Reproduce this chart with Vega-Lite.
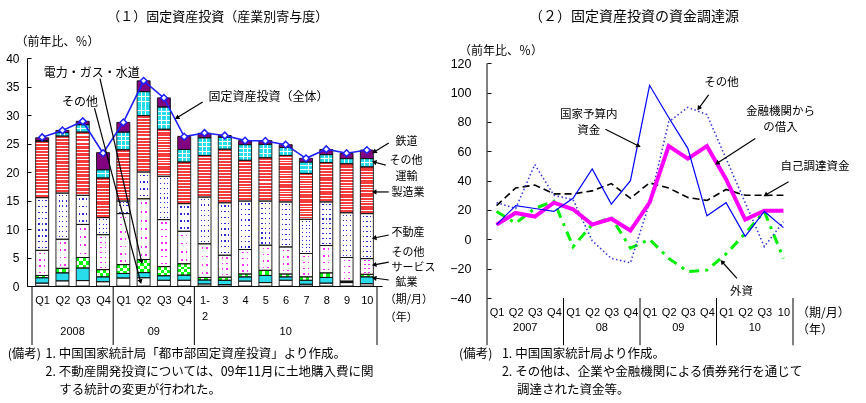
{
"$schema":"https://vega.github.io/schema/vega-lite/v6.json",
"background":"#ffffff",
"padding":{"left":5,"top":10,"right":5,"bottom":5},
"config":{"view":{"stroke":null},"axis":{"labelColor":"#000","tickColor":"#000","domainColor":"#000"}},
"datasets":{
"bars":[
{"i":0,"a_sonota":0.5,"b_kogyo":0.95,"c_denryoku":0.4,"d_service":4.4,"e_fudosan":9.25,"f_seizo":9.9,"g_unyu":0.1,"h_tetsudo":0.5,"total":26.1},
{"i":1,"a_sonota":0.9,"b_kogyo":1.4,"c_denryoku":0.8,"d_service":5.1,"e_fudosan":8.1,"f_seizo":10.0,"g_unyu":0.6,"h_tetsudo":0.4,"total":27.3},
{"i":2,"a_sonota":0.95,"b_kogyo":2.2,"c_denryoku":1.85,"d_service":5.8,"e_fudosan":5.1,"f_seizo":11.1,"g_unyu":1.3,"h_tetsudo":0.6,"total":28.9},
{"i":3,"a_sonota":0.75,"b_kogyo":0.85,"c_denryoku":1.27,"d_service":6.13,"e_fudosan":3.0,"f_seizo":6.95,"g_unyu":1.45,"h_tetsudo":3.0,"total":23.3},
{"i":4,"a_sonota":1.4,"b_kogyo":0.8,"c_denryoku":1.55,"d_service":8.95,"e_fudosan":2.2,"f_seizo":9.0,"g_unyu":3.1,"h_tetsudo":1.7,"total":28.7},
{"i":5,"a_sonota":1.45,"b_kogyo":0.9,"c_denryoku":2.3,"d_service":10.65,"e_fudosan":4.7,"f_seizo":9.9,"g_unyu":4.2,"h_tetsudo":1.9,"total":36.0},
{"i":6,"a_sonota":1.0,"b_kogyo":0.8,"c_denryoku":1.6,"d_service":8.25,"e_fudosan":7.6,"f_seizo":8.25,"g_unyu":3.9,"h_tetsudo":1.6,"total":33.0},
{"i":7,"a_sonota":1.0,"b_kogyo":0.9,"c_denryoku":2.0,"d_service":5.7,"e_fudosan":4.85,"f_seizo":7.3,"g_unyu":2.2,"h_tetsudo":2.3,"total":26.2},
{"i":8,"a_sonota":0.35,"b_kogyo":0.7,"c_denryoku":0.45,"d_service":5.9,"e_fudosan":8.2,"f_seizo":7.3,"g_unyu":3.1,"h_tetsudo":0.8,"total":26.85},
{"i":9,"a_sonota":0.25,"b_kogyo":0.75,"c_denryoku":0.55,"d_service":3.85,"e_fudosan":9.2,"f_seizo":9.4,"g_unyu":2.1,"h_tetsudo":0.3,"total":26.4},
{"i":10,"a_sonota":0.85,"b_kogyo":0.75,"c_denryoku":0.5,"d_service":4.3,"e_fudosan":8.5,"f_seizo":7.15,"g_unyu":2.75,"h_tetsudo":0.7,"total":25.5},
{"i":11,"a_sonota":0.6,"b_kogyo":1.25,"c_denryoku":0.9,"d_service":4.4,"e_fudosan":7.75,"f_seizo":7.6,"g_unyu":2.35,"h_tetsudo":0.65,"total":25.45},
{"i":12,"a_sonota":1.0,"b_kogyo":0.6,"c_denryoku":0.5,"d_service":4.75,"e_fudosan":7.9,"f_seizo":8.15,"g_unyu":1.4,"h_tetsudo":0.5,"total":24.8},
{"i":13,"a_sonota":0.3,"b_kogyo":0.7,"c_denryoku":0.6,"d_service":4.1,"e_fudosan":6.0,"f_seizo":8.05,"g_unyu":2.0,"h_tetsudo":0.65,"total":22.4},
{"i":14,"a_sonota":0.5,"b_kogyo":1.0,"c_denryoku":0.8,"d_service":4.8,"e_fudosan":7.65,"f_seizo":6.9,"g_unyu":1.4,"h_tetsudo":0.9,"total":24.0},
{"i":15,"a_sonota":0.6,"b_kogyo":0.15,"c_denryoku":0.1,"d_service":4.15,"e_fudosan":7.85,"f_seizo":8.6,"g_unyu":0.9,"h_tetsudo":0.9,"total":23.3},
{"i":16,"a_sonota":0.4,"b_kogyo":1.2,"c_denryoku":0.45,"d_service":2.75,"e_fudosan":7.9,"f_seizo":8.2,"g_unyu":1.45,"h_tetsudo":1.5,"total":23.85}
],
"funds":[
{"i":0,"kokka":10,"sonota":25,"kinyu":10,"jiko":23,"gaishi":19},
{"i":1,"kokka":23,"sonota":21,"kinyu":18,"jiko":35,"gaishi":11},
{"i":2,"kokka":21,"sonota":51,"kinyu":15.5,"jiko":37,"gaishi":21},
{"i":3,"kokka":19,"sonota":30,"kinyu":25,"jiko":31,"gaishi":26},
{"i":4,"kokka":28,"sonota":27,"kinyu":20.5,"jiko":31,"gaishi":-5},
{"i":5,"kokka":48,"sonota":-1,"kinyu":10,"jiko":33,"gaishi":10},
{"i":6,"kokka":24,"sonota":-13,"kinyu":14,"jiko":38,"gaishi":15},
{"i":7,"kokka":40,"sonota":-16,"kinyu":6,"jiko":28,"gaishi":-6},
{"i":8,"kokka":105,"sonota":25,"kinyu":25,"jiko":38.5,"gaishi":0},
{"i":9,"kokka":83,"sonota":80,"kinyu":63.5,"jiko":35,"gaishi":-13},
{"i":10,"kokka":62,"sonota":90,"kinyu":55,"jiko":28.5,"gaishi":-22},
{"i":11,"kokka":16,"sonota":85,"kinyu":63.5,"jiko":26.5,"gaishi":-21},
{"i":12,"kokka":25,"sonota":55,"kinyu":41,"jiko":34,"gaishi":-10},
{"i":13,"kokka":2,"sonota":25,"kinyu":13.5,"jiko":30,"gaishi":4},
{"i":14,"kokka":19,"sonota":-5,"kinyu":19.5,"jiko":30,"gaishi":19},
{"i":15,"kokka":8,"sonota":12,"kinyu":19.5,"jiko":30,"gaishi":-13}
]
},
"spacing":105,
"bounds":"flush",
"hconcat":[
{
"width":355,"height":228,
"resolve":{"axis":{"x":"independent","y":"independent"}},
"layer":[
{
"data":{"name":"bars"},
"transform":[
{"fold":["a_sonota","b_kogyo","c_denryoku","d_service","e_fudosan","f_seizo","g_unyu","h_tetsudo"]},
{"stack":"value","groupby":["i"],"sort":[{"field":"key","order":"ascending"}],"as":["y0","y1"]}
],
"mark":{"type":"bar","width":13,"strokeWidth":0},
"encoding":{
"x":{"field":"i","type":"quantitative","scale":{"domain":[-0.5,16.5],"nice":false},
"axis":{"orient":"bottom","values":[0,1,2,3,4,5,6,7,8,9,10,11,12,13,14,15,16],"labelExpr":"datum.value==8 ? ['1-','2'] : ['Q1','Q2','Q3','Q4','Q1','Q2','Q3','Q4','','3','4','5','6','7','8','9','10'][datum.value]","title":null,"grid":false,"ticks":false,"domain":true,"domainWidth":1,"labelFont":"Liberation Sans","labelFontSize":11,"labelPadding":8,"labelFlush":false,"labelOverlap":false,"labelBound":false,"labelLineHeight":16}},
"y":{"field":"y0","type":"quantitative","scale":{"domain":[0,40],"nice":false},
"axis":{"orient":"left","values":[0,5,10,15,20,25,30,35,40],"title":null,"grid":false,"tickSize":-4,"domain":true,"labelFont":"Liberation Sans","labelFontSize":12,"labelPadding":12,"labelFlush":false,"labelOverlap":false}},
"y2":{"field":"y1"},
"fill":{"condition":[
{"test":"datum.key=='a_sonota'","value":"#ffffff"},
{"test":"datum.key=='b_kogyo'","value":"#28dcec"},
{"test":"datum.key=='c_denryoku' && datum.value<1","value":"#00ff00"},
{"test":"datum.key=='c_denryoku' && datum.value<1.4","value":{"gradient":"linear","x1":0,"y1":0,"x2":0,"y2":1,"stops":[{"offset":0,"color":"#00ff00"},{"offset":0.5,"color":"#00ff00"},{"offset":0.5,"color":"#ffffff"},{"offset":1,"color":"#ffffff"}]}},
{"test":"datum.key=='c_denryoku' && datum.value<2","value":{"gradient":"linear","x1":0,"y1":0,"x2":0,"y2":1,"stops":[{"offset":0,"color":"#00ff00"},{"offset":0.333,"color":"#00ff00"},{"offset":0.333,"color":"#ffffff"},{"offset":0.667,"color":"#ffffff"},{"offset":0.667,"color":"#00ff00"},{"offset":1,"color":"#00ff00"}]}},
{"test":"datum.key=='c_denryoku'","value":{"gradient":"linear","x1":0,"y1":0,"x2":0,"y2":1,"stops":[{"offset":0,"color":"#00ff00"},{"offset":0.25,"color":"#00ff00"},{"offset":0.25,"color":"#ffffff"},{"offset":0.5,"color":"#ffffff"},{"offset":0.5,"color":"#00ff00"},{"offset":0.75,"color":"#00ff00"},{"offset":0.75,"color":"#ffffff"},{"offset":1,"color":"#ffffff"}]}},
{"test":"datum.key=='d_service' && datum.value<6","value":{"gradient":"linear","x1":0,"y1":0,"x2":0,"y2":1,"stops":[{"offset":0,"color":"#ffffff"},{"offset":0.1,"color":"#ffffff"},{"offset":0.1,"color":"#ff2bff"},{"offset":0.155,"color":"#ff2bff"},{"offset":0.155,"color":"#ffffff"},{"offset":0.35,"color":"#ffffff"},{"offset":0.35,"color":"#ff2bff"},{"offset":0.405,"color":"#ff2bff"},{"offset":0.405,"color":"#ffffff"},{"offset":0.6,"color":"#ffffff"},{"offset":0.6,"color":"#ff2bff"},{"offset":0.655,"color":"#ff2bff"},{"offset":0.655,"color":"#ffffff"},{"offset":0.85,"color":"#ffffff"},{"offset":0.85,"color":"#ff2bff"},{"offset":0.905,"color":"#ff2bff"},{"offset":0.905,"color":"#ffffff"},{"offset":1,"color":"#ffffff"}]}},
{"test":"datum.key=='d_service'","value":{"gradient":"linear","x1":0,"y1":0,"x2":0,"y2":1,"stops":[{"offset":0,"color":"#ffffff"},{"offset":0.0571,"color":"#ffffff"},{"offset":0.0571,"color":"#ff2bff"},{"offset":0.0886,"color":"#ff2bff"},{"offset":0.0886,"color":"#ffffff"},{"offset":0.2,"color":"#ffffff"},{"offset":0.2,"color":"#ff2bff"},{"offset":0.2314,"color":"#ff2bff"},{"offset":0.2314,"color":"#ffffff"},{"offset":0.3429,"color":"#ffffff"},{"offset":0.3429,"color":"#ff2bff"},{"offset":0.3743,"color":"#ff2bff"},{"offset":0.3743,"color":"#ffffff"},{"offset":0.4857,"color":"#ffffff"},{"offset":0.4857,"color":"#ff2bff"},{"offset":0.5171,"color":"#ff2bff"},{"offset":0.5171,"color":"#ffffff"},{"offset":0.6286,"color":"#ffffff"},{"offset":0.6286,"color":"#ff2bff"},{"offset":0.66,"color":"#ff2bff"},{"offset":0.66,"color":"#ffffff"},{"offset":0.7714,"color":"#ffffff"},{"offset":0.7714,"color":"#ff2bff"},{"offset":0.8029,"color":"#ff2bff"},{"offset":0.8029,"color":"#ffffff"},{"offset":0.9143,"color":"#ffffff"},{"offset":0.9143,"color":"#ff2bff"},{"offset":0.9457,"color":"#ff2bff"},{"offset":0.9457,"color":"#ffffff"},{"offset":1,"color":"#ffffff"}]}},
{"test":"datum.key=='e_fudosan' && datum.value<5.5","value":{"gradient":"linear","x1":0,"y1":0,"x2":0,"y2":1,"stops":[{"offset":0,"color":"#ffffff"},{"offset":0.1,"color":"#ffffff"},{"offset":0.1,"color":"#2b2bd0"},{"offset":0.1625,"color":"#2b2bd0"},{"offset":0.1625,"color":"#ffffff"},{"offset":0.35,"color":"#ffffff"},{"offset":0.35,"color":"#2b2bd0"},{"offset":0.4125,"color":"#2b2bd0"},{"offset":0.4125,"color":"#ffffff"},{"offset":0.6,"color":"#ffffff"},{"offset":0.6,"color":"#2b2bd0"},{"offset":0.6625,"color":"#2b2bd0"},{"offset":0.6625,"color":"#ffffff"},{"offset":0.85,"color":"#ffffff"},{"offset":0.85,"color":"#2b2bd0"},{"offset":0.9125,"color":"#2b2bd0"},{"offset":0.9125,"color":"#ffffff"},{"offset":1,"color":"#ffffff"}]}},
{"test":"datum.key=='e_fudosan'","value":{"gradient":"linear","x1":0,"y1":0,"x2":0,"y2":1,"stops":[{"offset":0,"color":"#ffffff"},{"offset":0.0444,"color":"#ffffff"},{"offset":0.0444,"color":"#2b2bd0"},{"offset":0.0722,"color":"#2b2bd0"},{"offset":0.0722,"color":"#ffffff"},{"offset":0.1556,"color":"#ffffff"},{"offset":0.1556,"color":"#2b2bd0"},{"offset":0.1833,"color":"#2b2bd0"},{"offset":0.1833,"color":"#ffffff"},{"offset":0.2667,"color":"#ffffff"},{"offset":0.2667,"color":"#2b2bd0"},{"offset":0.2944,"color":"#2b2bd0"},{"offset":0.2944,"color":"#ffffff"},{"offset":0.3778,"color":"#ffffff"},{"offset":0.3778,"color":"#2b2bd0"},{"offset":0.4056,"color":"#2b2bd0"},{"offset":0.4056,"color":"#ffffff"},{"offset":0.4889,"color":"#ffffff"},{"offset":0.4889,"color":"#2b2bd0"},{"offset":0.5167,"color":"#2b2bd0"},{"offset":0.5167,"color":"#ffffff"},{"offset":0.6,"color":"#ffffff"},{"offset":0.6,"color":"#2b2bd0"},{"offset":0.6278,"color":"#2b2bd0"},{"offset":0.6278,"color":"#ffffff"},{"offset":0.7111,"color":"#ffffff"},{"offset":0.7111,"color":"#2b2bd0"},{"offset":0.7389,"color":"#2b2bd0"},{"offset":0.7389,"color":"#ffffff"},{"offset":0.8222,"color":"#ffffff"},{"offset":0.8222,"color":"#2b2bd0"},{"offset":0.85,"color":"#2b2bd0"},{"offset":0.85,"color":"#ffffff"},{"offset":0.9333,"color":"#ffffff"},{"offset":0.9333,"color":"#2b2bd0"},{"offset":0.9611,"color":"#2b2bd0"},{"offset":0.9611,"color":"#ffffff"},{"offset":1,"color":"#ffffff"}]}},
{"test":"datum.key=='f_seizo' && datum.value<8","value":{"gradient":"linear","x1":0,"y1":0,"x2":0,"y2":1,"stops":[{"offset":0,"color":"#f53b3b"},{"offset":0.0476,"color":"#f53b3b"},{"offset":0.0476,"color":"#ffffff"},{"offset":0.0714,"color":"#ffffff"},{"offset":0.0714,"color":"#f53b3b"},{"offset":0.119,"color":"#f53b3b"},{"offset":0.119,"color":"#ffffff"},{"offset":0.1429,"color":"#ffffff"},{"offset":0.1429,"color":"#f53b3b"},{"offset":0.1905,"color":"#f53b3b"},{"offset":0.1905,"color":"#ffffff"},{"offset":0.2143,"color":"#ffffff"},{"offset":0.2143,"color":"#f53b3b"},{"offset":0.2619,"color":"#f53b3b"},{"offset":0.2619,"color":"#ffffff"},{"offset":0.2857,"color":"#ffffff"},{"offset":0.2857,"color":"#f53b3b"},{"offset":0.3333,"color":"#f53b3b"},{"offset":0.3333,"color":"#ffffff"},{"offset":0.3571,"color":"#ffffff"},{"offset":0.3571,"color":"#f53b3b"},{"offset":0.4048,"color":"#f53b3b"},{"offset":0.4048,"color":"#ffffff"},{"offset":0.4286,"color":"#ffffff"},{"offset":0.4286,"color":"#f53b3b"},{"offset":0.4762,"color":"#f53b3b"},{"offset":0.4762,"color":"#ffffff"},{"offset":0.5,"color":"#ffffff"},{"offset":0.5,"color":"#f53b3b"},{"offset":0.5476,"color":"#f53b3b"},{"offset":0.5476,"color":"#ffffff"},{"offset":0.5714,"color":"#ffffff"},{"offset":0.5714,"color":"#f53b3b"},{"offset":0.619,"color":"#f53b3b"},{"offset":0.619,"color":"#ffffff"},{"offset":0.6429,"color":"#ffffff"},{"offset":0.6429,"color":"#f53b3b"},{"offset":0.6905,"color":"#f53b3b"},{"offset":0.6905,"color":"#ffffff"},{"offset":0.7143,"color":"#ffffff"},{"offset":0.7143,"color":"#f53b3b"},{"offset":0.7619,"color":"#f53b3b"},{"offset":0.7619,"color":"#ffffff"},{"offset":0.7857,"color":"#ffffff"},{"offset":0.7857,"color":"#f53b3b"},{"offset":0.8333,"color":"#f53b3b"},{"offset":0.8333,"color":"#ffffff"},{"offset":0.8571,"color":"#ffffff"},{"offset":0.8571,"color":"#f53b3b"},{"offset":0.9048,"color":"#f53b3b"},{"offset":0.9048,"color":"#ffffff"},{"offset":0.9286,"color":"#ffffff"},{"offset":0.9286,"color":"#f53b3b"},{"offset":0.9762,"color":"#f53b3b"},{"offset":0.9762,"color":"#ffffff"},{"offset":1,"color":"#ffffff"}]}},
{"test":"datum.key=='f_seizo'","value":{"gradient":"linear","x1":0,"y1":0,"x2":0,"y2":1,"stops":[{"offset":0,"color":"#f53b3b"},{"offset":0.037,"color":"#f53b3b"},{"offset":0.037,"color":"#ffffff"},{"offset":0.0556,"color":"#ffffff"},{"offset":0.0556,"color":"#f53b3b"},{"offset":0.0926,"color":"#f53b3b"},{"offset":0.0926,"color":"#ffffff"},{"offset":0.1111,"color":"#ffffff"},{"offset":0.1111,"color":"#f53b3b"},{"offset":0.1481,"color":"#f53b3b"},{"offset":0.1481,"color":"#ffffff"},{"offset":0.1667,"color":"#ffffff"},{"offset":0.1667,"color":"#f53b3b"},{"offset":0.2037,"color":"#f53b3b"},{"offset":0.2037,"color":"#ffffff"},{"offset":0.2222,"color":"#ffffff"},{"offset":0.2222,"color":"#f53b3b"},{"offset":0.2593,"color":"#f53b3b"},{"offset":0.2593,"color":"#ffffff"},{"offset":0.2778,"color":"#ffffff"},{"offset":0.2778,"color":"#f53b3b"},{"offset":0.3148,"color":"#f53b3b"},{"offset":0.3148,"color":"#ffffff"},{"offset":0.3333,"color":"#ffffff"},{"offset":0.3333,"color":"#f53b3b"},{"offset":0.3704,"color":"#f53b3b"},{"offset":0.3704,"color":"#ffffff"},{"offset":0.3889,"color":"#ffffff"},{"offset":0.3889,"color":"#f53b3b"},{"offset":0.4259,"color":"#f53b3b"},{"offset":0.4259,"color":"#ffffff"},{"offset":0.4444,"color":"#ffffff"},{"offset":0.4444,"color":"#f53b3b"},{"offset":0.4815,"color":"#f53b3b"},{"offset":0.4815,"color":"#ffffff"},{"offset":0.5,"color":"#ffffff"},{"offset":0.5,"color":"#f53b3b"},{"offset":0.537,"color":"#f53b3b"},{"offset":0.537,"color":"#ffffff"},{"offset":0.5556,"color":"#ffffff"},{"offset":0.5556,"color":"#f53b3b"},{"offset":0.5926,"color":"#f53b3b"},{"offset":0.5926,"color":"#ffffff"},{"offset":0.6111,"color":"#ffffff"},{"offset":0.6111,"color":"#f53b3b"},{"offset":0.6481,"color":"#f53b3b"},{"offset":0.6481,"color":"#ffffff"},{"offset":0.6667,"color":"#ffffff"},{"offset":0.6667,"color":"#f53b3b"},{"offset":0.7037,"color":"#f53b3b"},{"offset":0.7037,"color":"#ffffff"},{"offset":0.7222,"color":"#ffffff"},{"offset":0.7222,"color":"#f53b3b"},{"offset":0.7593,"color":"#f53b3b"},{"offset":0.7593,"color":"#ffffff"},{"offset":0.7778,"color":"#ffffff"},{"offset":0.7778,"color":"#f53b3b"},{"offset":0.8148,"color":"#f53b3b"},{"offset":0.8148,"color":"#ffffff"},{"offset":0.8333,"color":"#ffffff"},{"offset":0.8333,"color":"#f53b3b"},{"offset":0.8704,"color":"#f53b3b"},{"offset":0.8704,"color":"#ffffff"},{"offset":0.8889,"color":"#ffffff"},{"offset":0.8889,"color":"#f53b3b"},{"offset":0.9259,"color":"#f53b3b"},{"offset":0.9259,"color":"#ffffff"},{"offset":0.9444,"color":"#ffffff"},{"offset":0.9444,"color":"#f53b3b"},{"offset":0.9815,"color":"#f53b3b"},{"offset":0.9815,"color":"#ffffff"},{"offset":1,"color":"#ffffff"}]}},
{"test":"datum.key=='g_unyu' && datum.value<1.1","value":"#28dcec"},
{"test":"datum.key=='g_unyu' && datum.value<1.9","value":{"gradient":"linear","x1":0,"y1":0,"x2":0,"y2":1,"stops":[{"offset":0,"color":"#28dcec"},{"offset":0.445,"color":"#28dcec"},{"offset":0.445,"color":"#ffffff"},{"offset":0.555,"color":"#ffffff"},{"offset":0.555,"color":"#28dcec"},{"offset":1,"color":"#28dcec"}]}},
{"test":"datum.key=='g_unyu' && datum.value<2.6","value":{"gradient":"linear","x1":0,"y1":0,"x2":0,"y2":1,"stops":[{"offset":0,"color":"#28dcec"},{"offset":0.296,"color":"#28dcec"},{"offset":0.296,"color":"#ffffff"},{"offset":0.371,"color":"#ffffff"},{"offset":0.371,"color":"#28dcec"},{"offset":0.629,"color":"#28dcec"},{"offset":0.629,"color":"#ffffff"},{"offset":0.704,"color":"#ffffff"},{"offset":0.704,"color":"#28dcec"},{"offset":1,"color":"#28dcec"}]}},
{"test":"datum.key=='g_unyu' && datum.value<3.4","value":{"gradient":"linear","x1":0,"y1":0,"x2":0,"y2":1,"stops":[{"offset":0,"color":"#28dcec"},{"offset":0.2225,"color":"#28dcec"},{"offset":0.2225,"color":"#ffffff"},{"offset":0.2775,"color":"#ffffff"},{"offset":0.2775,"color":"#28dcec"},{"offset":0.4725,"color":"#28dcec"},{"offset":0.4725,"color":"#ffffff"},{"offset":0.5275,"color":"#ffffff"},{"offset":0.5275,"color":"#28dcec"},{"offset":0.7225,"color":"#28dcec"},{"offset":0.7225,"color":"#ffffff"},{"offset":0.7775,"color":"#ffffff"},{"offset":0.7775,"color":"#28dcec"},{"offset":1,"color":"#28dcec"}]}},
{"test":"datum.key=='g_unyu'","value":{"gradient":"linear","x1":0,"y1":0,"x2":0,"y2":1,"stops":[{"offset":0,"color":"#28dcec"},{"offset":0.18,"color":"#28dcec"},{"offset":0.18,"color":"#ffffff"},{"offset":0.22,"color":"#ffffff"},{"offset":0.22,"color":"#28dcec"},{"offset":0.38,"color":"#28dcec"},{"offset":0.38,"color":"#ffffff"},{"offset":0.42,"color":"#ffffff"},{"offset":0.42,"color":"#28dcec"},{"offset":0.58,"color":"#28dcec"},{"offset":0.58,"color":"#ffffff"},{"offset":0.62,"color":"#ffffff"},{"offset":0.62,"color":"#28dcec"},{"offset":0.78,"color":"#28dcec"},{"offset":0.78,"color":"#ffffff"},{"offset":0.82,"color":"#ffffff"},{"offset":0.82,"color":"#28dcec"},{"offset":1,"color":"#28dcec"}]}}
],"value":"#800080"}
}
},
{
"data":{"name":"bars"},
"transform":[
{"fold":["a_sonota","b_kogyo","c_denryoku","d_service","e_fudosan","f_seizo","g_unyu","h_tetsudo"]},
{"stack":"value","groupby":["i"],"sort":[{"field":"key","order":"ascending"}],"as":["y0","y1"]},
{"filter":"datum.key=='d_service' || datum.key=='e_fudosan' || datum.key=='g_unyu'"}
],
"mark":{"type":"bar","width":13,"strokeWidth":0},
"encoding":{
"x":{"field":"i","type":"quantitative","scale":{"domain":[-0.5,16.5],"nice":false},"axis":null},
"y":{"field":"y0","type":"quantitative","scale":{"domain":[0,40],"nice":false},"axis":null},
"y2":{"field":"y1"},
"fill":{"condition":[
{"test":"datum.key=='d_service'","value":{"gradient":"linear","x1":0,"y1":0,"x2":1,"y2":0,"stops":[{"offset":0,"color":"#ffffff"},{"offset":0.28,"color":"#ffffff"},{"offset":0.28,"color":"rgba(255,255,255,0)"},{"offset":0.4,"color":"rgba(255,255,255,0)"},{"offset":0.4,"color":"#ffffff"},{"offset":0.62,"color":"#ffffff"},{"offset":0.62,"color":"rgba(255,255,255,0)"},{"offset":0.74,"color":"rgba(255,255,255,0)"},{"offset":0.74,"color":"#ffffff"},{"offset":1,"color":"#ffffff"}]}},
{"test":"datum.key=='e_fudosan'","value":{"gradient":"linear","x1":0,"y1":0,"x2":1,"y2":0,"stops":[{"offset":0,"color":"#ffffff"},{"offset":0.2,"color":"#ffffff"},{"offset":0.2,"color":"rgba(255,255,255,0)"},{"offset":0.3,"color":"rgba(255,255,255,0)"},{"offset":0.3,"color":"#ffffff"},{"offset":0.47,"color":"#ffffff"},{"offset":0.47,"color":"rgba(255,255,255,0)"},{"offset":0.57,"color":"rgba(255,255,255,0)"},{"offset":0.57,"color":"#ffffff"},{"offset":0.74,"color":"#ffffff"},{"offset":0.74,"color":"rgba(255,255,255,0)"},{"offset":0.84,"color":"rgba(255,255,255,0)"},{"offset":0.84,"color":"#ffffff"},{"offset":1,"color":"#ffffff"}]}}
],"value":{"gradient":"linear","x1":0,"y1":0,"x2":1,"y2":0,"stops":[{"offset":0,"color":"rgba(255,255,255,0)"},{"offset":0.31,"color":"rgba(255,255,255,0)"},{"offset":0.31,"color":"#ffffff"},{"offset":0.38,"color":"#ffffff"},{"offset":0.38,"color":"rgba(255,255,255,0)"},{"offset":0.64,"color":"rgba(255,255,255,0)"},{"offset":0.64,"color":"#ffffff"},{"offset":0.71,"color":"#ffffff"},{"offset":0.71,"color":"rgba(255,255,255,0)"},{"offset":1,"color":"rgba(255,255,255,0)"}]}}
}
},
{
"data":{"name":"bars"},
"transform":[
{"fold":["a_sonota","b_kogyo","c_denryoku","d_service","e_fudosan","f_seizo","g_unyu","h_tetsudo"]},
{"stack":"value","groupby":["i"],"sort":[{"field":"key","order":"ascending"}],"as":["y0","y1"]},
{"filter":"datum.key=='c_denryoku'"}
],
"mark":{"type":"bar","width":13,"strokeWidth":0,"blend":"difference","fill":{"gradient":"linear","x1":0,"y1":0,"x2":1,"y2":0,"stops":[{"offset":0,"color":"rgba(255,0,255,0)"},{"offset":0.25,"color":"rgba(255,0,255,0)"},{"offset":0.25,"color":"#ff00ff"},{"offset":0.5,"color":"#ff00ff"},{"offset":0.5,"color":"rgba(255,0,255,0)"},{"offset":0.75,"color":"rgba(255,0,255,0)"},{"offset":0.75,"color":"#ff00ff"},{"offset":1,"color":"#ff00ff"}]}},
"encoding":{
"x":{"field":"i","type":"quantitative","scale":{"domain":[-0.5,16.5],"nice":false},"axis":null},
"y":{"field":"y0","type":"quantitative","scale":{"domain":[0,40],"nice":false},"axis":null},
"y2":{"field":"y1"}
}
},
{
"data":{"name":"bars"},
"transform":[
{"fold":["a_sonota","b_kogyo","c_denryoku","d_service","e_fudosan","f_seizo","g_unyu","h_tetsudo"]},
{"stack":"value","groupby":["i"],"sort":[{"field":"key","order":"ascending"}],"as":["y0","y1"]}
],
"mark":{"type":"bar","width":13,"fill":"#ffffff","fillOpacity":0,"stroke":"#111111","strokeWidth":0.9},
"encoding":{
"x":{"field":"i","type":"quantitative","scale":{"domain":[-0.5,16.5],"nice":false},"axis":null},
"y":{"field":"y0","type":"quantitative","scale":{"domain":[0,40],"nice":false},"axis":null},
"y2":{"field":"y1"}
}
},
{
"data":{"name":"bars"},
"mark":{"type":"line","color":"#1f1fff","strokeWidth":1.6},
"encoding":{
"x":{"field":"i","type":"quantitative","scale":{"domain":[-0.5,16.5],"nice":false},"axis":null},
"y":{"field":"total","type":"quantitative","scale":{"domain":[0,40],"nice":false},"axis":null}
}
},
{
"data":{"name":"bars"},
"mark":{"type":"point","shape":"diamond","filled":true,"fill":"#ffffff","stroke":"#1f1fff","strokeWidth":1.5,"size":45,"opacity":1},
"encoding":{
"x":{"field":"i","type":"quantitative","scale":{"domain":[-0.5,16.5],"nice":false},"axis":null},
"y":{"field":"total","type":"quantitative","scale":{"domain":[0,40],"nice":false},"axis":null}
}
},
{
"data":{"values":[{"x":-0.5},{"x":3.5},{"x":7.5},{"x":16.5}]},
"mark":{"type":"rule","color":"#000000","strokeWidth":1},
"encoding":{
"x":{"field":"x","type":"quantitative","scale":{"domain":[-0.5,16.5],"nice":false},"axis":null},
"y":{"datum":0,"type":"quantitative","scale":{"domain":[0,40],"nice":false},"axis":null},
"y2":{"datum":-10.35}
}
},
{
"data":{"values":[{"x":2.85,"y":36.4,"x2":4.9,"y2":4.26},{"x":2.58,"y":31.2,"x2":4.85,"y2":0.75},{"x":7.91,"y":32.3,"x2":6.64,"y2":29.5},{"x":17.08,"y":25.1,"x2":16.36,"y2":23.5},{"x":16.93,"y":21.2,"x2":16.36,"y2":21.75},{"x":17.08,"y":16.5,"x2":16.36,"y2":16.5},{"x":17.08,"y":8.95,"x2":16.36,"y2":8.42},{"x":17.08,"y":4.2,"x2":16.36,"y2":3.7},{"x":17.08,"y":1.05,"x2":16.36,"y2":1.4}]},
"layer":[
{"mark":{"type":"rule","color":"#000000","strokeWidth":1.2},
"encoding":{
"x":{"field":"x","type":"quantitative","scale":{"domain":[-0.5,16.5],"nice":false},"axis":null},
"y":{"field":"y","type":"quantitative","scale":{"domain":[0,40],"nice":false},"axis":null},
"x2":{"field":"x2"},"y2":{"field":"y2"}}},
{"transform":[{"calculate":"atan2((datum.x2-datum.x)*20.88,(datum.y2-datum.y)*5.7)*180/PI","as":"ang"}],
"mark":{"type":"point","shape":"triangle-up","filled":true,"color":"#000000","size":28,"opacity":1},
"encoding":{
"x":{"field":"x2","type":"quantitative","scale":{"domain":[-0.5,16.5],"nice":false},"axis":null},
"y":{"field":"y2","type":"quantitative","scale":{"domain":[0,40],"nice":false},"axis":null},
"angle":{"field":"ang","type":"quantitative","scale":null}}}
]
},
{
"data":{"values":[{"x":8.65,"y":47.2,"t":"（１）固定資産投資（産業別寄与度）"}]},
"mark":{"type":"text","align":"center","baseline":"middle","font":"Noto Sans CJK JP","fontSize":13,"color":"#000000"},
"encoding":{
"x":{"field":"x","type":"quantitative","scale":{"domain":[-0.5,16.5],"nice":false},"axis":null},
"y":{"field":"y","type":"quantitative","scale":{"domain":[0,40],"nice":false},"axis":null},
"text":{"field":"t"}}
},
{
"data":{"values":[{"x":2.45,"y":37.3,"t":"電力・ガス・水道"},{"x":1.87,"y":32.3,"t":"その他"}]},
"mark":{"type":"text","align":"center","baseline":"middle","font":"Noto Sans CJK JP","fontSize":12,"color":"#000000"},
"encoding":{
"x":{"field":"x","type":"quantitative","scale":{"domain":[-0.5,16.5],"nice":false},"axis":null},
"y":{"field":"y","type":"quantitative","scale":{"domain":[0,40],"nice":false},"axis":null},
"text":{"field":"t"}}
},
{
"data":{"values":[{"x":-1.31,"y":42.8,"t":"（前年比、％）"},{"x":8.2,"y":33.2,"t":"固定資産投資（全体）"}]},
"mark":{"type":"text","align":"left","baseline":"middle","font":"Noto Sans CJK JP","fontSize":12,"color":"#000000"},
"encoding":{
"x":{"field":"x","type":"quantitative","scale":{"domain":[-0.5,16.5],"nice":false},"axis":null},
"y":{"field":"y","type":"quantitative","scale":{"domain":[0,40],"nice":false},"axis":null},
"text":{"field":"t"}}
},
{
"data":{"values":[{"x":17.41,"y":25.2,"t":"鉄道"},{"x":17.12,"y":21.9,"t":"その他"},{"x":17.41,"y":19.2,"t":"運輸"},{"x":17.22,"y":16.3,"t":"製造業"},{"x":17.22,"y":9.3,"t":"不動産"},{"x":17.22,"y":5.8,"t":"その他"},{"x":17.22,"y":3.1,"t":"サービス"},{"x":17.41,"y":0.55,"t":"鉱業"},{"x":16.88,"y":-2.46,"t":"（期/月）"},{"x":16.88,"y":-5.6,"t":"（年）"}]},
"mark":{"type":"text","align":"left","baseline":"middle","font":"Noto Sans CJK JP","fontSize":11,"color":"#000000"},
"encoding":{
"x":{"field":"x","type":"quantitative","scale":{"domain":[-0.5,16.5],"nice":false},"axis":null},
"y":{"field":"y","type":"quantitative","scale":{"domain":[0,40],"nice":false},"axis":null},
"text":{"field":"t"}}
},
{
"data":{"values":[{"x":1.5,"y":-8.07,"t":"2008"},{"x":5.5,"y":-8.07,"t":"09"},{"x":12,"y":-8.07,"t":"10"}]},
"mark":{"type":"text","align":"center","baseline":"middle","font":"Liberation Sans","fontSize":11,"color":"#000000"},
"encoding":{
"x":{"field":"x","type":"quantitative","scale":{"domain":[-0.5,16.5],"nice":false},"axis":null},
"y":{"field":"y","type":"quantitative","scale":{"domain":[0,40],"nice":false},"axis":null},
"text":{"field":"t"}}
},
{
"data":{"values":[{"x":-1.7,"y":-11.93,"t":"(備考)"},{"x":0.17,"y":-11.93,"t":"1. 中国国家統計局「都市部固定資産投資」より作成。"},{"x":0.17,"y":-15.09,"t":"2. 不動産開発投資については、09年11月に土地購入費に関"},{"x":0.84,"y":-18.25,"t":"する統計の変更が行われた。"}]},
"mark":{"type":"text","align":"left","baseline":"middle","font":"Noto Sans CJK JP","fontSize":12.5,"color":"#000000"},
"encoding":{
"x":{"field":"x","type":"quantitative","scale":{"domain":[-0.5,16.5],"nice":false},"axis":null},
"y":{"field":"y","type":"quantitative","scale":{"domain":[0,40],"nice":false},"axis":null},
"text":{"field":"t"}}
}
]
},
{
"width":306,"height":240,
"resolve":{"axis":{"x":"independent","y":"independent"}},
"layer":[
{
"data":{"name":"funds"},
"mark":{"type":"line","color":"#00ee00","strokeWidth":3,"strokeDash":[10,6,3,6]},
"encoding":{
"x":{"field":"i","type":"quantitative","scale":{"domain":[-0.5,15.5],"nice":false},
"axis":{"orient":"bottom","values":[0,1,2,3,4,5,6,7,8,9,10,11,12,13,14,15],"labelExpr":"['Q1','Q2','Q3','Q4','Q1','Q2','Q3','Q4','Q1','Q2','Q3','Q4','Q1','Q2','Q3','10'][datum.value]","title":null,"grid":false,"ticks":false,"domain":false,"labelFont":"Liberation Sans","labelFontSize":11,"labelPadding":8,"labelFlush":false,"labelOverlap":false,"labelBound":false}},
"y":{"field":"gaishi","type":"quantitative","scale":{"domain":[-40,123.6],"nice":false},
"axis":{"orient":"left","values":[-40,-20,0,20,40,60,80,100,120],"title":null,"grid":false,"domain":false,"tickSize":-4,"labelFont":"Liberation Sans","labelFontSize":12.5,"labelPadding":20,"labelFlush":false,"labelOverlap":false}}}
},
{
"data":{"values":[{"x":-0.5,"y":120,"y2":-72.2},{"x":3.5,"y":-40,"y2":-72.2},{"x":7.5,"y":-40,"y2":-72.2},{"x":11.5,"y":-40,"y2":-72.2},{"x":15.5,"y":-40,"y2":-72.2}]},
"mark":{"type":"rule","color":"#000000","strokeWidth":1},
"encoding":{
"x":{"field":"x","type":"quantitative","scale":{"domain":[-0.5,15.5],"nice":false},"axis":null},
"y":{"field":"y","type":"quantitative","scale":{"domain":[-40,123.6],"nice":false},"axis":null},
"y2":{"field":"y2"}}
},
{
"mark":{"type":"rule","color":"#000000","strokeWidth":1},
"encoding":{"y":{"datum":0,"type":"quantitative","scale":{"domain":[-40,123.6],"nice":false},"axis":null}}
},
{
"data":{"name":"funds"},
"mark":{"type":"line","color":"#000000","strokeWidth":1.6,"strokeDash":[7,4]},
"encoding":{
"x":{"field":"i","type":"quantitative","scale":{"domain":[-0.5,15.5],"nice":false},"axis":null},
"y":{"field":"jiko","type":"quantitative","scale":{"domain":[-40,123.6],"nice":false},"axis":null}}
},
{
"data":{"name":"funds"},
"mark":{"type":"line","color":"#3a3ad0","strokeWidth":1.6,"strokeDash":[1.5,2.5]},
"encoding":{
"x":{"field":"i","type":"quantitative","scale":{"domain":[-0.5,15.5],"nice":false},"axis":null},
"y":{"field":"sonota","type":"quantitative","scale":{"domain":[-40,123.6],"nice":false},"axis":null}}
},
{
"data":{"name":"funds"},
"mark":{"type":"line","color":"#ff00ff","strokeWidth":4},
"encoding":{
"x":{"field":"i","type":"quantitative","scale":{"domain":[-0.5,15.5],"nice":false},"axis":null},
"y":{"field":"kinyu","type":"quantitative","scale":{"domain":[-40,123.6],"nice":false},"axis":null}}
},
{
"data":{"name":"funds"},
"mark":{"type":"line","color":"#0000ff","strokeWidth":1.2},
"encoding":{
"x":{"field":"i","type":"quantitative","scale":{"domain":[-0.5,15.5],"nice":false},"axis":null},
"y":{"field":"kokka","type":"quantitative","scale":{"domain":[-40,123.6],"nice":false},"axis":null}}
},
{
"data":{"values":[{"x":5.69,"y":75,"x2":7.43,"y2":63.6},{"x":11.09,"y":98.4,"x2":10.57,"y2":89.3},{"x":13.53,"y":68.8,"x2":11.53,"y2":51.8},{"x":15.27,"y":39.3,"x2":14.06,"y2":30.2},{"x":12.57,"y":-26.6,"x2":11.79,"y2":-15.3}]},
"layer":[
{"mark":{"type":"rule","color":"#000000","strokeWidth":1.2},
"encoding":{
"x":{"field":"x","type":"quantitative","scale":{"domain":[-0.5,15.5],"nice":false},"axis":null},
"y":{"field":"y","type":"quantitative","scale":{"domain":[-40,123.6],"nice":false},"axis":null},
"x2":{"field":"x2"},"y2":{"field":"y2"}}},
{"transform":[{"calculate":"atan2((datum.x2-datum.x)*19.125,(datum.y2-datum.y)*1.467)*180/PI","as":"ang"}],
"mark":{"type":"point","shape":"triangle-up","filled":true,"color":"#000000","size":28,"opacity":1},
"encoding":{
"x":{"field":"x2","type":"quantitative","scale":{"domain":[-0.5,15.5],"nice":false},"axis":null},
"y":{"field":"y2","type":"quantitative","scale":{"domain":[-40,123.6],"nice":false},"axis":null},
"angle":{"field":"ang","type":"quantitative","scale":null}}}
]
},
{
"data":{"values":[{"x":7.19,"y":151.5,"t":"（２）固定資産投資の資金調達源"}]},
"mark":{"type":"text","align":"center","baseline":"middle","font":"Noto Sans CJK JP","fontSize":14,"color":"#000000"},
"encoding":{
"x":{"field":"x","type":"quantitative","scale":{"domain":[-0.5,15.5],"nice":false},"axis":null},
"y":{"field":"y","type":"quantitative","scale":{"domain":[-40,123.6],"nice":false},"axis":null},
"text":{"field":"t"}}
},
{
"data":{"values":[{"x":4.82,"y":84.5,"t":"国家予算内"},{"x":4.82,"y":74,"t":"資金"},{"x":11.76,"y":106.7,"t":"その他"},{"x":14.85,"y":86.6,"t":"金融機関から"},{"x":14.85,"y":75.8,"t":"の借入"},{"x":16.65,"y":49.5,"t":"自己調達資金"},{"x":12.81,"y":-35.7,"t":"外資"}]},
"mark":{"type":"text","align":"center","baseline":"middle","font":"Noto Sans CJK JP","fontSize":11.5,"color":"#000000"},
"encoding":{
"x":{"field":"x","type":"quantitative","scale":{"domain":[-0.5,15.5],"nice":false},"axis":null},
"y":{"field":"y","type":"quantitative","scale":{"domain":[-40,123.6],"nice":false},"axis":null},
"text":{"field":"t"}}
},
{
"data":{"values":[{"x":-1.96,"y":128.4,"t":"（前年比、％）"},{"x":15.71,"y":-50.2,"t":"（期/月）"},{"x":15.71,"y":-61.8,"t":"（年）"}]},
"mark":{"type":"text","align":"left","baseline":"middle","font":"Noto Sans CJK JP","fontSize":12,"color":"#000000"},
"encoding":{
"x":{"field":"x","type":"quantitative","scale":{"domain":[-0.5,15.5],"nice":false},"axis":null},
"y":{"field":"y","type":"quantitative","scale":{"domain":[-40,123.6],"nice":false},"axis":null},
"text":{"field":"t"}}
},
{
"data":{"values":[{"x":1.5,"y":-60.5,"t":"2007"},{"x":5.5,"y":-60.5,"t":"08"},{"x":9.5,"y":-60.5,"t":"09"},{"x":13.5,"y":-60.5,"t":"10"}]},
"mark":{"type":"text","align":"center","baseline":"middle","font":"Liberation Sans","fontSize":11,"color":"#000000"},
"encoding":{
"x":{"field":"x","type":"quantitative","scale":{"domain":[-0.5,15.5],"nice":false},"axis":null},
"y":{"field":"y","type":"quantitative","scale":{"domain":[-40,123.6],"nice":false},"axis":null},
"text":{"field":"t"}}
},
{
"data":{"values":[{"x":-1.96,"y":-78.2,"t":"(備考)"},{"x":0.28,"y":-78.2,"t":"1. 中国国家統計局より作成。"},{"x":0.28,"y":-90.5,"t":"2. その他は、企業や金融機関による債券発行を通じて"},{"x":1.07,"y":-102.8,"t":"調達された資金等。"}]},
"mark":{"type":"text","align":"left","baseline":"middle","font":"Noto Sans CJK JP","fontSize":12.5,"color":"#000000"},
"encoding":{
"x":{"field":"x","type":"quantitative","scale":{"domain":[-0.5,15.5],"nice":false},"axis":null},
"y":{"field":"y","type":"quantitative","scale":{"domain":[-40,123.6],"nice":false},"axis":null},
"text":{"field":"t"}}
}
]
}
]
}
